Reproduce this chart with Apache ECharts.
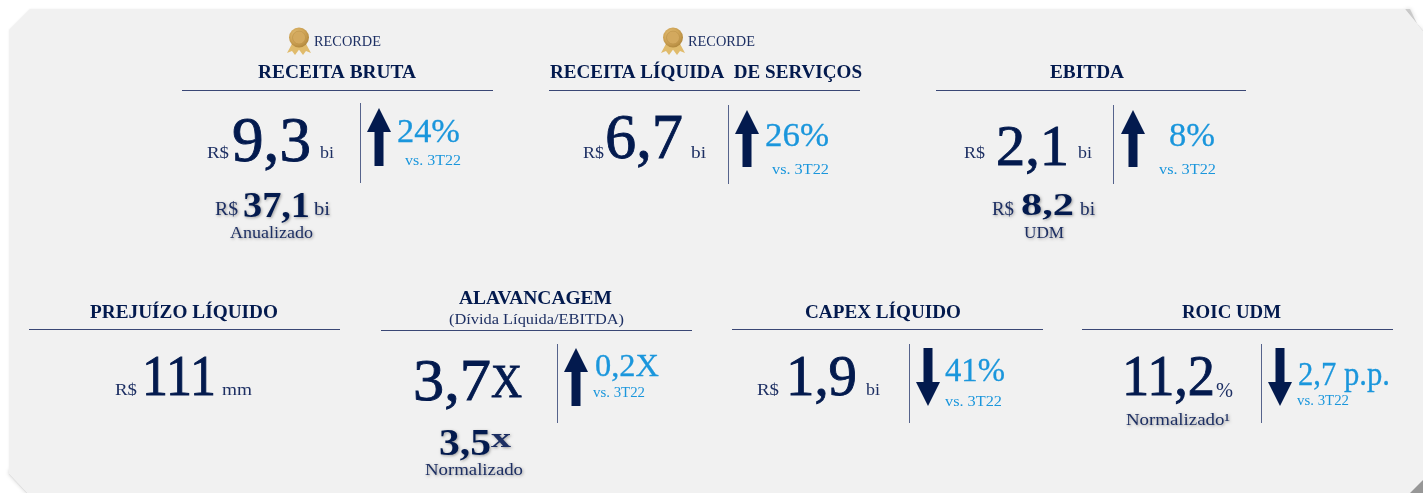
<!DOCTYPE html>
<html>
<head>
<meta charset="utf-8">
<title>Destaques 3T23</title>
<style>
    html, body { margin: 0; padding: 0; background: #fff; }
    #chart { width: 1423px; height: 493px; }
</style>
<script src="https://cdn.jsdelivr.net/npm/echarts@6/dist/echarts.min.js"></script>
</head>
<body>
<div id="chart"></div>
<script>
    // textos dos indicadores
    const recordLabel = 'RECORDE'
    const titles = ['RECEITA BRUTA', 'RECEITA LÍQUIDA  DE SERVIÇOS', 'EBITDA', 'PREJUÍZO LÍQUIDO', 'ALAVANCAGEM', 'CAPEX LÍQUIDO', 'ROIC UDM']
    const subtitles = ['', '', '', '', '(Dívida Líquida/EBITDA)', '', '']
    const prefixes = ['R$', 'R$', 'R$', 'R$', '', 'R$', '']
    const values = ['9,3', '6,7', '2,1', '111', '3,7', '1,9', '11,2']
    const units = ['bi', 'bi', 'bi', 'mm', 'X', 'bi', '%']
    const deltas = ['24%', '26%', '8%', '', '0,2X', '41%', '2,7 p.p.']
    const directions = ['up', 'up', 'up', '', 'up', 'down', 'down']
    const compareLabels = ['vs. 3T22', 'vs. 3T22', 'vs. 3T22', '', 'vs. 3T22', 'vs. 3T22', 'vs. 3T22']
    const subPrefixes = ['R$', '', 'R$', '', '', '', '']
    const subValues = ['37,1', '', '8,2', '', '3,5', '', '']
    const subUnits = ['bi', '', 'bi', '', 'x', '', '']
    const subLabels = ['Anualizado', '', 'UDM', '', 'Normalizado', '', 'Normalizado¹']

    const NAVY = '#031a4e'
    const NAVY_SOFT = '#1d2f63'
    const BLUE = '#1a96dc'
    const RULE = '#3a4775'
    const SERIF = '"Liberation Serif", serif'

    // posicoes de cada bloco: [x0, x1, yMeio, fonte]
    const layout = [
        { rule: [182, 493, 90], title: [258, 416, 71, 19], vline: [360, 103, 183], arrow: [379, 108, 166],
          prefix: [207, 229, 152, 16], value: [232, 311, 140, 64], unit: [320, 334, 152, 16],
          delta: [397, 460, 130, 34], compare: [405, 461, 159, 14],
          subPrefix: [215, 238, 208, 18], subValue: [243, 310, 205, 36], subUnit: [314, 330, 208, 18], subLabel: [230, 313, 232, 16], record: [299, 314, 381, 40] },
        { rule: [549, 860, 90], title: [550, 862, 71, 19], vline: [728, 105, 184], arrow: [747, 110, 167],
          prefix: [583, 604, 152, 16], value: [605, 683, 137, 64], unit: [691, 706, 152, 16],
          delta: [765, 829, 134, 34], compare: [772, 829, 168, 14], record: [673, 688, 755, 40] },
        { rule: [936, 1246, 90], title: [1050, 1124, 71, 19], vline: [1113, 105, 184], arrow: [1133, 110, 167],
          prefix: [964, 985, 152, 16], value: [996, 1069, 146, 58], unit: [1078, 1092, 152, 16],
          delta: [1169, 1215, 134, 34], compare: [1159, 1216, 168, 14],
          subPrefix: [992, 1014, 208, 18], subValue: [1021, 1074, 204, 32], subUnit: [1080, 1095, 208, 18], subLabel: [1024, 1064, 232, 16] },
        { rule: [29, 340, 329], title: [90, 278, 311, 19],
          prefix: [115, 137, 389, 16], value: [142, 216, 376, 58], unit: [222, 252, 389, 16] },
        { rule: [381, 692, 330], title: [459, 612, 297, 19], subtitle: [449, 624, 318, 15], vline: [557, 344, 423], arrow: [576, 348, 406],
          value: [413, 491, 380, 60], unit: [491, 522, 382, 46],
          delta: [595, 659, 365, 32], compare: [593, 645, 391, 14],
          subValue: [439, 491, 442, 38], subUnit: [491, 511, 438, 28], subLabel: [425, 523, 469, 16] },
        { rule: [732, 1043, 329], title: [805, 961, 311, 19], vline: [909, 344, 423], arrow: [928, 348, 406],
          prefix: [757, 779, 389, 16], value: [786, 857, 376, 58], unit: [866, 880, 389, 16],
          delta: [945, 1005, 369, 34], compare: [945, 1002, 400, 14] },
        { rule: [1082, 1393, 329], title: [1182, 1281, 311, 19], vline: [1261, 344, 423], arrow: [1280, 348, 406],
          value: [1122, 1215, 376, 58], unit: [1216, 1233, 390, 20],
          delta: [1298, 1390, 373, 34], compare: [1297, 1349, 399, 14], subLabel: [1126, 1230, 419, 16] }
    ]

    const softShadow = { textShadowColor: 'rgba(0,0,0,0.35)', textShadowBlur: 3, textShadowOffsetX: 1, textShadowOffsetY: 1 }

    // escreve o texto ocupando exatamente de x0 ate x1
    function fitText(text, pos, color, bold, extra) {
        if (!text || !pos) return []
        const font = (bold ? 'bold ' : '') + pos[3] + 'px ' + SERIF
        const natural = echarts.format.getTextRect(text, font).width
        return [{
            type: 'text',
            x: pos[0],
            y: pos[2] + Math.round(pos[3] * 0.05) + 1,
            scaleX: (pos[1] - pos[0]) / natural,
            silent: true,
            style: Object.assign({
                text: text,
                font: font,
                fill: color,
                textAlign: 'left',
                textVerticalAlign: 'middle'
            }, extra || {})
        }]
    }

    function arrowShape(cx, top, bottom, dir) {
        const headHalf = 12, shaftHalf = 4.5, head = 24
        if (dir === 'up') {
            return [[cx, top], [cx + headHalf, top + head], [cx + shaftHalf, top + head], [cx + shaftHalf, bottom],
                [cx - shaftHalf, bottom], [cx - shaftHalf, top + head], [cx - headHalf, top + head]]
        }
        return [[cx, bottom], [cx - headHalf, bottom - head], [cx - shaftHalf, bottom - head], [cx - shaftHalf, top],
            [cx + shaftHalf, top], [cx + shaftHalf, bottom - head], [cx + headHalf, bottom - head]]
    }

    function medal(cx) {
        const gold = new echarts.graphic.RadialGradient(0.42, 0.38, 0.7, [
            { offset: 0, color: '#e9c983' }, { offset: 0.55, color: '#cfa456' }, { offset: 1, color: '#a87f35' }
        ])
        const ribbon = '#e0bb6c'
        return [
            { type: 'polygon', silent: true, shape: { points: [[cx - 6, 42], [cx + 2, 47], [cx - 4, 55], [cx - 7, 51], [cx - 12, 53]] }, style: { fill: ribbon } },
            { type: 'polygon', silent: true, shape: { points: [[cx + 6, 42], [cx - 2, 47], [cx + 4, 55], [cx + 7, 51], [cx + 12, 53]] }, style: { fill: ribbon } },
            { type: 'circle', silent: true, shape: { cx: cx, cy: 37.5, r: 10 }, style: { fill: gold } },
            { type: 'circle', silent: true, shape: { cx: cx, cy: 37.5, r: 6.5 }, style: { fill: '#d3a95e', stroke: '#b98f44', lineWidth: 0.6 } }
        ]
    }

    function buildGraphics() {
        const g = []
        // sombras das dobras e painel
        g.push({ type: 'polygon', silent: true, shape: { points: [[1405, 9], [1423, 31], [1423, 36], [1410, 9]] }, style: { fill: '#b5b5b5', opacity: 0.6, shadowBlur: 4, shadowColor: 'rgba(0,0,0,0.3)' } })
        g.push({ type: 'polygon', silent: true, shape: { points: [[9, 474], [27, 493], [32, 493], [9, 469]] }, style: { fill: '#b5b5b5', opacity: 0.6, shadowBlur: 4, shadowColor: 'rgba(0,0,0,0.3)' } })
        g.push({ type: 'polygon', silent: true, shape: { points: [[30, 9], [1405, 9], [1423, 31], [1423, 480], [1410, 493], [27, 493], [9, 474], [9, 30]] },
            style: { fill: '#f1f1f1', shadowBlur: 2, shadowColor: 'rgba(0,0,0,0.08)' } })
        g.push({ type: 'polygon', silent: true, shape: { points: [[1423, 480], [1423, 493], [1410, 493]] }, style: { fill: '#979797' } })

        layout.forEach(function (p, i) {
            g.push({ type: 'line', silent: true, shape: { x1: p.rule[0], y1: p.rule[2] + 0.5, x2: p.rule[1], y2: p.rule[2] + 0.5 }, style: { stroke: RULE, lineWidth: 1 } })
            g.push.apply(g, fitText(titles[i], p.title, NAVY, true))
            g.push.apply(g, fitText(subtitles[i], p.subtitle, NAVY_SOFT, false))
            if (p.vline) {
                g.push({ type: 'line', silent: true, shape: { x1: p.vline[0] + 0.5, y1: p.vline[1], x2: p.vline[0] + 0.5, y2: p.vline[2] }, style: { stroke: '#56638c', lineWidth: 1 } })
            }
            if (p.arrow) {
                g.push({ type: 'polygon', silent: true, shape: { points: arrowShape(p.arrow[0], p.arrow[1], p.arrow[2], directions[i]) }, style: { fill: NAVY } })
            }
            const heavy = { stroke: NAVY, lineWidth: 0.9 }
            g.push.apply(g, fitText(prefixes[i], p.prefix, NAVY_SOFT, false))
            g.push.apply(g, fitText(values[i], p.value, NAVY, false, heavy))
            g.push.apply(g, fitText(units[i], p.unit, i === 4 ? NAVY : NAVY_SOFT, false, i === 4 ? heavy : null))
            g.push.apply(g, fitText(deltas[i], p.delta, BLUE, false, { stroke: BLUE, lineWidth: 0.3 }))
            g.push.apply(g, fitText(compareLabels[i], p.compare, BLUE, false))
            g.push.apply(g, fitText(subPrefixes[i], p.subPrefix, NAVY_SOFT, false, softShadow))
            g.push.apply(g, fitText(subValues[i], p.subValue, NAVY, true, softShadow))
            g.push.apply(g, fitText(subUnits[i], p.subUnit, NAVY_SOFT, i === 4, softShadow))
            g.push.apply(g, fitText(subLabels[i], p.subLabel, NAVY_SOFT, false, softShadow))
            if (p.record) {
                g.push.apply(g, medal(p.record[0]))
                g.push.apply(g, fitText(recordLabel, [p.record[1], p.record[2], p.record[3], 14], NAVY_SOFT, false))
            }
        })
        return g
    }

    const chartInstance = echarts.init(document.getElementById('chart'), null, { renderer: 'canvas' })
    chartInstance.setOption({
        backgroundColor: '#ffffff',
        animation: false,
        graphic: { elements: buildGraphics() }
    })
</script>
</body>
</html>
